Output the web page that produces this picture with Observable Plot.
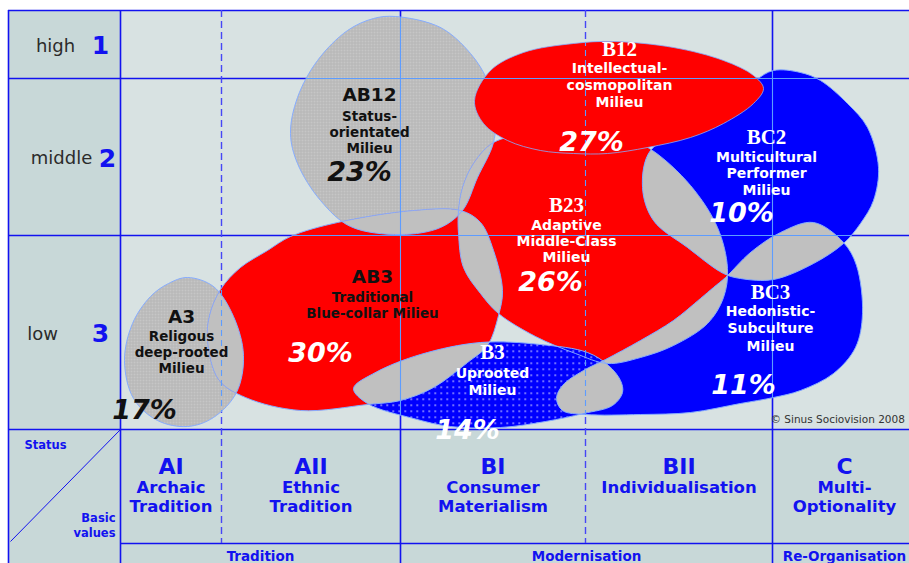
<!DOCTYPE html>
<html><head><meta charset="utf-8">
<script src="https://cdn.jsdelivr.net/npm/d3@7"></script>
<script src="https://cdn.jsdelivr.net/npm/@observablehq/plot@0.6"></script>
<style>body{margin:0;background:#fff}#chart svg{display:block}</style>
</head><body><div id="chart"></div>
<script>
// ---------------- data ----------------
const statusLabels = ["high", "middle", "low"];
const statusCodes = ["1", "2", "3"];
const basicCodes = ["AI", "AII", "BI", "BII", "C"];
const basicNames = [["Archaic", "Tradition"], ["Ethnic", "Tradition"], ["Consumer", "Materialism"], ["Individualisation"], ["Multi-", "Optionality"]];
const groupNames = ["Tradition", "Modernisation", "Re-Organisation"];
const groupColumnSpans = [[0, 2], [2, 4], [4, 5]];

const milieuCodes = ["A3", "AB12", "AB3", "B23", "B3", "BC2", "BC3", "B12"];
const milieuNames = [
  ["Religous", "deep-rooted", "Milieu"],
  ["Status-", "orientated", "Milieu"],
  ["Traditional", "Blue-collar Milieu"],
  ["Adaptive", "Middle-Class", "Milieu"],
  ["Uprooted", "Milieu"],
  ["Multicultural", "Performer", "Milieu"],
  ["Hedonistic-", "Subculture", "Milieu"],
  ["Intellectual-", "cosmopolitan", "Milieu"]
];
const milieuShares = [17, 23, 30, 26, 14, 10, 11, 27];
const copyright = "© Sinus Sociovision 2008";

// ---------------- layout (chart units, y grows downward) ----------------
const frameLeft = 8, frameTop = 10, frameRight = 916, frameBottom = 563;
const rowBounds = [10, 78, 235, 429];
const colBounds = [120, 221, 400, 585, 772, 916];
const headerSplit = 543;
const statusWordX = [55, 61, 42];
const statusCodeX = [100, 107, 100];

const outlines = {
  A3: [[187,277],[213,286],[233,316],[243,355],[236,392],[213,417],[187,426],[157,420],[133,398],[124,360],[132,323],[150,296],[168,283]],
  AB12: [[395,16],[440,27],[470,53],[487,80],[495,110],[493,142],[477,177],[462,210],[440,227],[400,234],[350,226],[320,200],[297,163],[290,133],[297,97],[317,60],[347,30],[373,18]],
  AB3: [[207,340],[209,315],[220,289],[240,267],[267,250],[290,236],[337,222],[413,210],[460,210],[480,222],[493,250],[502,290],[498,315],[487,345],[467,362],[433,387],[400,400],[367,404],[300,410],[245,397],[218,379]],
  B23: [[493,142],[530,133],[580,132],[625,137],[652,150],[690,185],[717,227],[727,268],[723,297],[707,323],[673,345],[640,357],[607,363],[575,353],[535,336],[498,313],[480,293],[463,267],[458,233],[458,210],[462,187],[473,163]],
  B3: [[353,388],[375,372],[420,354],[480,342],[540,344],[587,352],[608,365],[620,380],[622,392],[612,405],[583,413],[545,421],[500,427],[450,426],[413,418],[367,403]],
  BC2: [[773,70],[800,72],[820,80],[847,103],[867,127],[878,167],[873,200],[860,223],[843,243],[813,263],[773,279],[740,278],[723,273],[687,247],[653,220],[642,187],[650,150],[690,128],[730,103],[755,80]],
  BC3: [[725,277],[750,252],[780,232],[813,222],[843,242],[856,265],[862,313],[855,347],[833,373],[800,390],[773,397],[740,403],[690,412],[640,414],[585,414],[562,410],[556,398],[562,385],[583,370],[605,359],[640,340],[673,320],[700,298],[713,287]],
  B12: [[474,100],[490,70],[523,52],[573,43],[613,41],[673,47],[723,60],[753,75],[763,88],[753,103],[723,123],[690,137],[647,147],[607,153],[573,153],[540,150],[507,140],[483,123]]
};
const overlaps = [["A3","AB3"],["AB12","AB3"],["AB12","B23"],["AB3","B23"],["AB3","B3"],["B3","BC3"],["B23","BC3"],["BC2","B23"],["BC2","BC3"]];

const codeAnchor = {A3:[181,317], AB12:[369,95], AB3:[372,277], B23:[566,205], B3:[492,352], BC2:[766,137], BC3:[770,292], B12:[619,49]};
const nameLineY = {A3:[336,352,368], AB12:[116,132,148], AB3:[297,313], B23:[225,241,257], B3:[373,390], BC2:[157,173,190], BC3:[311,328,346], B12:[68,85,102]};
const shareAnchor = {A3:[144,410], AB12:[359,172], AB3:[320,353], B23:[550,282], B3:[467,430], BC2:[741,213], BC3:[743,385], B12:[591,142]};

// ---------------- styles ----------------
const BLUE = "#1212f0";
const milieuFill = {A3:"url(#pat-gray)", AB12:"url(#pat-gray)", AB3:"#ff0000", B23:"#ff0000", B3:"url(#pat-blue)", BC2:"#0000ff", BC3:"#0000ff", B12:"#ff0000"};
const darkLabel = ["A3", "AB12", "AB3"];
const darkShare = ["A3", "AB12"];
const SANS = "DejaVu Sans", SERIF = "Liberation Serif";

// ---------------- derived tables ----------------
const pts = id => outlines[id].map(([x, y]) => ({x, y}));
const rowMid = rowBounds.slice(0, -1).map((b, i) => (b + rowBounds[i + 1]) / 2 + 1.5);
const colMid = colBounds.slice(0, -1).map((b, i) => (b + colBounds[i + 1]) / 2);
const codeRows = milieuCodes.map(c => ({text: c, x: codeAnchor[c][0], y: codeAnchor[c][1], dark: darkLabel.includes(c)}));
const nameRows = milieuCodes.flatMap((c, i) => milieuNames[i].map((t, j) => ({text: t, x: codeAnchor[c][0], y: nameLineY[c][j], dark: darkLabel.includes(c)})));
const shareRows = milieuCodes.map((c, i) => ({text: milieuShares[i] + "%", x: shareAnchor[c][0], y: shareAnchor[c][1], dark: darkShare.includes(c)}));
const basicNameRows = basicNames.flatMap((lines, i) => lines.map((t, j) => ({text: t, x: colMid[i], y: 487 + j * 19})));
const groupRows = groupNames.map((g, i) => ({text: g, x: (colBounds[groupColumnSpans[i][0]] + colBounds[groupColumnSpans[i][1]]) / 2, y: 556}));

const blobOpts = (fill, desc, extra = {}) => ({x: "x", y: "y", curve: "catmull-rom-closed", fill, stroke: "none", ariaDescription: desc, ...extra});
const under = milieuCodes.filter(c => c !== "B12");

const lightRules = [
  Plot.ruleY(rowBounds.slice(1, 3), {x1: colBounds[0], x2: frameRight, stroke: "#5d9cff", strokeWidth: 1.1, ariaDescription: "light-grid"}),
  Plot.ruleX([colBounds[2], colBounds[4]], {y1: rowBounds[0], y2: rowBounds[3], stroke: "#5d9cff", strokeWidth: 1.1, ariaDescription: "light-grid"}),
  Plot.ruleX([colBounds[1], colBounds[3]], {y1: rowBounds[0], y2: rowBounds[3], stroke: "#5d9cff", strokeWidth: 1.1, strokeDasharray: "6,4", ariaDescription: "light-grid"})
];

const svg = Plot.plot({
  width: 909, height: 563,
  marginTop: 0, marginRight: 0, marginBottom: 0, marginLeft: 0,
  x: {domain: [0, 909], range: [0, 909], axis: null},
  y: {domain: [0, 563], range: [0, 563], axis: null},
  marks: [
    Plot.rect([{}], {x1: frameLeft, x2: frameRight, y1: frameTop, y2: frameBottom, fill: "#c8d8d8"}),
    Plot.rect([{}], {x1: colBounds[0], x2: frameRight, y1: rowBounds[0], y2: rowBounds[3], fill: "#d8e2e2"}),
    // dark grid
    Plot.ruleY(rowBounds, {x1: frameLeft, x2: frameRight, stroke: BLUE, strokeWidth: 1.6}),
    Plot.ruleY([headerSplit], {x1: colBounds[0], x2: frameRight, stroke: BLUE, strokeWidth: 1.6}),
    Plot.ruleX([frameLeft, colBounds[0], colBounds[2], colBounds[4]], {y1: frameTop, y2: frameBottom, stroke: BLUE, strokeWidth: 1.6}),
    Plot.ruleX([colBounds[1], colBounds[3]], {y1: frameTop, y2: headerSplit, stroke: "#4646f6", strokeWidth: 1.4, strokeDasharray: "7,4"}),
    Plot.link([{}], {x1: frameLeft + 2, y1: headerSplit - 2, x2: colBounds[0], y2: rowBounds[3], stroke: BLUE, strokeWidth: 1}),
    // milieu blobs
    ...under.map(c => Plot.line(pts(c), blobOpts(milieuFill[c], "blob-" + c))),
    ...overlaps.map(([a, b]) => Plot.line(pts(b), blobOpts("#c0c0c0", "lens-" + a + "-" + b))),
    ...under.map(c => Plot.line(pts(c), blobOpts("none", "edge-" + c, {stroke: "#86acff", strokeWidth: 1}))),
    Plot.line(pts("B12"), blobOpts(milieuFill.B12, "blob-B12", {stroke: "#86acff", strokeWidth: 0.8})),
    ...lightRules,
    // status labels
    Plot.text(statusLabels, {x: statusWordX, y: rowMid, text: d => d, fontFamily: SANS, fontSize: 18, fill: "#2b2b2b"}),
    Plot.text(statusCodes, {x: statusCodeX, y: rowMid, text: d => d, fontFamily: SANS, fontSize: 25, fontWeight: "bold", fill: BLUE}),
    Plot.text(["Status"], {x: [45], y: [445], text: d => d, fontFamily: SANS, fontSize: 11.5, fontWeight: "bold", fill: BLUE}),
    Plot.text(["Basic", "values"], {x: [115, 115], y: [518, 533], text: d => d, textAnchor: "end", fontFamily: SANS, fontSize: 11.5, fontWeight: "bold", fill: BLUE}),
    // basic values header
    Plot.text(basicCodes, {x: colMid, y: basicCodes.map(() => 466), text: d => d, fontFamily: SANS, fontSize: 22, fontWeight: "bold", fill: BLUE}),
    Plot.text(basicNameRows, {x: "x", y: "y", text: "text", fontFamily: SANS, fontSize: 16.5, fontWeight: "bold", fill: BLUE}),
    Plot.text(groupRows, {x: "x", y: "y", text: "text", fontFamily: SANS, fontSize: 13.5, fontWeight: "bold", fill: BLUE}),
    // milieu labels
    Plot.text(codeRows.filter(d => d.dark), {x: "x", y: "y", text: "text", fontFamily: SANS, fontSize: 18.5, fontWeight: "bold", fill: "#111"}),
    Plot.text(codeRows.filter(d => !d.dark), {x: "x", y: "y", text: "text", fontFamily: SERIF, fontSize: 21, fontWeight: "bold", fill: "#fff"}),
    Plot.text(nameRows.filter(d => d.dark), {x: "x", y: "y", text: "text", fontFamily: SANS, fontSize: 13.5, fontWeight: "bold", fill: "#111"}),
    Plot.text(nameRows.filter(d => !d.dark), {x: "x", y: "y", text: "text", fontFamily: SANS, fontSize: 14, fontWeight: "bold", fill: "#fff"}),
    Plot.text(shareRows.filter(d => d.dark), {x: "x", y: "y", text: "text", fontFamily: SANS, fontSize: 27, fontWeight: "bold", fontStyle: "italic", fill: "#111"}),
    Plot.text(shareRows.filter(d => !d.dark), {x: "x", y: "y", text: "text", fontFamily: SANS, fontSize: 27, fontWeight: "bold", fontStyle: "italic", fill: "#fff"}),
    Plot.text([copyright], {x: [770], y: [419], text: d => d, textAnchor: "start", fontFamily: SANS, fontSize: 10.5, fill: "#333"})
  ]
});

// ---------------- patterns & overlap clipping ----------------
const ns = "http://www.w3.org/2000/svg";
const defs = document.createElementNS(ns, "defs");
svg.insertBefore(defs, svg.firstChild);
defs.innerHTML = `
<pattern id="pat-gray" width="3" height="3" patternUnits="userSpaceOnUse">
  <rect width="3" height="3" fill="#c6c6c6"/><rect width="3" height="1" fill="#b6b6b6"/><rect width="1" height="3" fill="#b6b6b6"/>
</pattern>
<pattern id="pat-blue" width="6" height="6" patternUnits="userSpaceOnUse">
  <rect width="6" height="6" fill="#0000ff"/><rect x="2" y="2" width="1.4" height="1.4" fill="#ffffff" opacity="0.9"/>
</pattern>`;
function addClip(clipId, ids) {
  const cp = document.createElementNS(ns, "clipPath");
  cp.setAttribute("id", clipId);
  for (const id of ids) {
    const g = svg.querySelector(`g[aria-description="blob-${id}"]`);
    if (!g) continue;
    const p = g.querySelector("path");
    const q = document.createElementNS(ns, "path");
    q.setAttribute("d", p.getAttribute("d"));
    if (g.getAttribute("transform")) q.setAttribute("transform", g.getAttribute("transform"));
    cp.appendChild(q);
  }
  defs.appendChild(cp);
}
function wrapClip(desc, clipId) {
  svg.querySelectorAll(`g[aria-description="${desc}"]`).forEach(g => {
    const w = document.createElementNS(ns, "g");
    w.setAttribute("clip-path", `url(#${clipId})`);
    g.parentNode.insertBefore(w, g);
    w.appendChild(g);
  });
}
milieuCodes.forEach(c => addClip("clip-" + c, [c]));
addClip("clip-all", milieuCodes);
overlaps.forEach(([a, b]) => wrapClip("lens-" + a + "-" + b, "clip-" + a));
wrapClip("light-grid", "clip-all");

document.getElementById("chart").appendChild(svg);
</script>
</body></html>
